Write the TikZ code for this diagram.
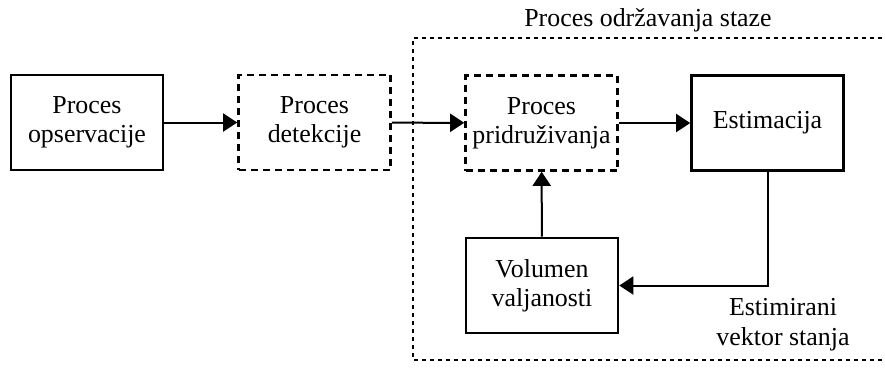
\documentclass[tikz,border=0pt]{standalone}
\usepackage{fontspec}
\setmainfont{Liberation Serif}
\usetikzlibrary{arrows.meta,positioning}

\tikzset{
  blok/.style={draw, line width=1.3bp, minimum width=76bp, minimum height=47.5bp,
    align=center, font=\rmfamily\fontsize{13}{14.5}\selectfont, inner sep=1bp},
  blokcrt/.style={blok, dash pattern=on 3.5bp off 2.5bp},
  strelica/.style={line width=1bp, -{Triangle[length=7bp,width=9bp]}},
}

\begin{document}
\begin{tikzpicture}[x=0.5bp, y=-0.5bp]
    \useasboundingbox (0,0) rectangle (885,371);

    % Okvir procesa odrzavanja staze (desna strana izlazi iz slike)
    \draw[line width=1bp, dash pattern=on 2bp off 2bp]
        (890,38) -| (413,360) -- (890,360);
    \node[font=\rmfamily\fontsize{13}{14.5}\selectfont] (naslov) at (648,20) {Proces održavanja staze};

    % Blokovi
    \node[blok] (opservacija) at (87,122.5) {Proces\\opservacije};
    \node[blokcrt] (detekcija) at (314.5,122.5) {Proces\\detekcije};
    \node[blokcrt] (pridruzivanje) at (541.5,123) {Proces\\pridruživanja};
    \node[blok] (estimacija) at (767.5,123) {Estimacija};
    \node[blok] (volumen) at (542,285.5) {Volumen\\valjanosti};

    % Veze
    \draw[strelica] (opservacija) -- (detekcija);
    \draw[strelica] (detekcija) -- (pridruzivanje);
    \draw[strelica] (pridruzivanje) -- (estimacija);
    \draw[strelica] (volumen) -- (pridruzivanje);
    \draw[strelica] (estimacija.south) |- (volumen.east);

    % Oznaka povratne veze
    \node[align=center, font=\rmfamily\fontsize{13}{15}\selectfont] (vektor) at (783,325)
        {Estimirani\\vektor stanja};
\end{tikzpicture}
\end{document}
